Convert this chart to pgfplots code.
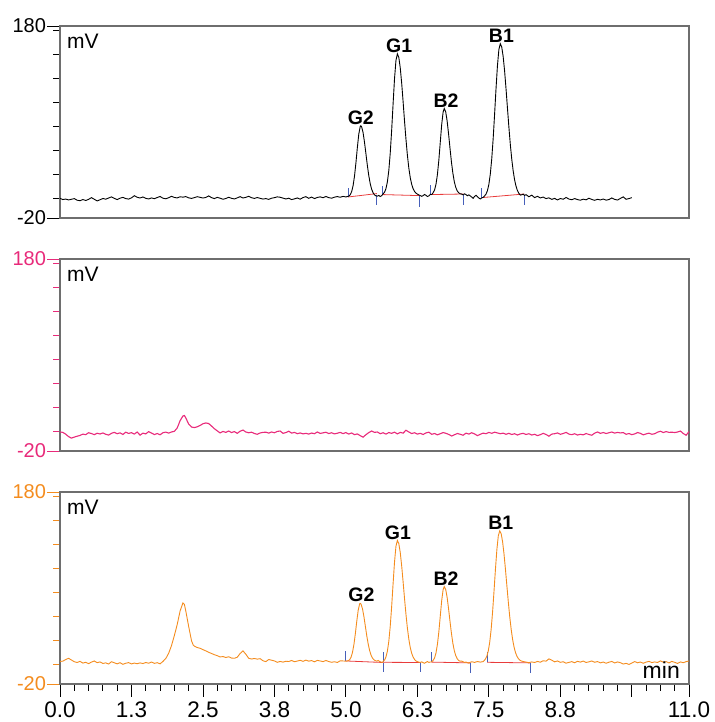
\documentclass[border=0pt]{standalone}
\usepackage{fontspec}
\setmainfont{Liberation Sans}
\usepackage{pgfplots}
\pgfplotsset{compat=1.18}

\definecolor{framec}{RGB}{110,110,110}
\definecolor{pinkc}{RGB}{232,42,122}
\definecolor{orangec}{RGB}{244,140,30}
\definecolor{basered}{RGB}{232,60,60}
\definecolor{markblue}{RGB}{70,95,185}

\pgfplotsset{
  chrom/.style={
    scale only axis, width=629pt, height=192pt,
    xmin=0, xmax=11, ymin=-20, ymax=180,
    axis line style={framec, line width=1.2pt},
    ytick={-20,180}, yticklabels={-20,180},
    minor ytick={0,25,...,175},
    ytick pos=left, tick align=outside,
    major tick length=13pt, minor tick length=7pt,
    every tick/.append style={line width=0.9pt},
    yticklabel style={font=\fontsize{20}{22}\selectfont, xshift=2.5pt},
    clip=false,
  },
}
\tikzset{peak/.style={font=\bfseries\fontsize{19.5}{20}\selectfont, anchor=south, inner sep=1pt}}

\begin{document}
\begin{tikzpicture}
\path[use as bounding box] (0,0) rectangle (714pt,722pt);

% ---------------- top trace (black) ----------------
\begin{axis}[chrom, at={(60pt,504pt)}, anchor=south west, xtick=\empty,
  y tick style={black}, yticklabel style={text=black}]
\addplot[basered, line width=0.8pt] coordinates {(5.04,1.9) (5.54,5.4)};
\addplot[basered, line width=0.8pt] coordinates {(5.64,4.4) (6.29,3.3)};
\addplot[basered, line width=0.8pt] coordinates {(6.48,4.4) (7.06,5.0)};
\addplot[basered, line width=0.8pt] coordinates {(7.37,1.2) (8.12,5.0)};
\addplot[markblue, line width=0.9pt] coordinates {(5.04,1.9) (5.04,11)};
\addplot[markblue, line width=0.9pt] coordinates {(5.64,4.4) (5.64,13.5)};
\addplot[markblue, line width=0.9pt] coordinates {(6.48,4.4) (6.48,14)};
\addplot[markblue, line width=0.9pt] coordinates {(7.37,1.2) (7.37,11)};
\addplot[markblue, line width=0.9pt] coordinates {(5.54,4.4) (5.54,-6.8)};
\addplot[markblue, line width=0.9pt] coordinates {(6.29,2.6) (6.29,-8.5)};
\addplot[markblue, line width=0.9pt] coordinates {(7.06,4.4) (7.06,-6.8)};
\addplot[markblue, line width=0.9pt] coordinates {(8.12,4.4) (8.12,-6.8)};
\addplot[black, line width=0.9pt] coordinates {
(0.00,0.5)(0.05,-0.8)(0.10,-0.3)(0.15,-1.2)(0.20,-0.5)(0.25,0.2)(0.30,-1.5)(0.35,-2.0)(0.40,-0.8)(0.45,-1.8)
(0.50,-0.6)(0.55,1.2)(0.60,-0.5)(0.65,-2.2)(0.70,-1.0)(0.75,0.3)(0.80,-0.4)(0.85,0.8)(0.90,2.0)(0.95,0.4)
(1.00,-0.8)(1.05,0.6)(1.10,1.5)(1.15,0.2)(1.20,-0.3)(1.25,1.0)(1.30,3.2)(1.35,1.6)(1.40,0.8)(1.45,1.9)
(1.50,0.5)(1.55,-0.2)(1.60,0.9)(1.65,0.1)(1.70,1.3)(1.75,2.4)(1.80,0.6)(1.85,0.0)(1.90,1.1)(1.95,2.6)
(2.00,1.4)(2.05,0.9)(2.10,2.1)(2.15,1.7)(2.20,2.3)(2.25,1.0)(2.30,0.4)(2.35,1.2)(2.40,2.2)(2.45,1.5)
(2.50,0.8)(2.55,1.4)(2.60,3.0)(2.65,1.2)(2.70,0.2)(2.75,1.5)(2.80,0.6)(2.85,-0.5)(2.90,0.3)(2.95,1.6)
(3.00,0.5)(3.05,-0.2)(3.10,1.0)(3.15,2.2)(3.20,0.8)(3.25,1.5)(3.30,2.6)(3.35,1.1)(3.40,0.4)(3.45,1.3)
(3.50,0.5)(3.55,-0.3)(3.60,0.2)(3.65,-0.6)(3.70,0.6)(3.75,1.2)(3.80,2.0)(3.85,1.6)(3.90,0.7)(3.95,-0.2)
(4.00,0.6)(4.05,-0.8)(4.10,-0.1)(4.15,0.9)(4.20,-0.4)(4.25,1.3)(4.30,2.2)(4.35,0.5)(4.40,1.8)(4.45,0.2)
(4.50,1.4)(4.55,2.0)(4.60,1.1)(4.65,2.4)(4.70,1.2)(4.75,0.6)(4.80,1.7)(4.85,2.3)(4.90,1.6)(4.95,2.5)
(5.00,1.9)(5.05,2.8)(5.075,4.2)(5.10,7.4)(5.125,13.5)(5.15,23.5)(5.175,37.4)(5.20,53.3)(5.225,67.3)(5.25,75.2)
(5.26,76.0)(5.275,75.0)(5.30,69.0)(5.325,59.0)(5.35,46.9)(5.375,34.7)(5.40,24.1)(5.425,15.8)(5.45,10.0)(5.475,6.3)
(5.50,4.1)(5.525,3.0)(5.55,2.8)(5.575,3.5)(5.60,2.4)(5.625,3.2)
(5.65,5.1)(5.675,6.8)(5.70,10.5)(5.725,17.5)(5.75,29.3)(5.775,47.4)(5.80,71.3)(5.825,98.8)(5.85,125.0)(5.875,144.0)
(5.90,151.0)(5.925,147.3)(5.95,136.6)(5.975,120.6)(6.00,101.3)(6.025,81.0)(6.05,62.1)(6.075,45.5)(6.10,32.1)(6.125,22.1)
(6.15,15.1)(6.175,10.5)(6.20,7.6)(6.225,5.9)(6.25,4.9)(6.275,4.0)(6.30,3.4)(6.325,2.6)(6.35,3.3)(6.375,4.5)
(6.40,3.6)(6.425,2.4)(6.45,3.0)(6.475,4.6)(6.50,4.4)
(6.525,6.3)(6.55,9.2)(6.575,15.0)(6.60,25.1)(6.625,40.1)(6.65,58.8)(6.675,77.3)(6.70,90.4)(6.72,94.0)(6.745,90.6)
(6.77,81.2)(6.795,67.8)(6.82,52.8)(6.845,38.6)(6.87,26.8)(6.895,18.0)(6.92,12.1)(6.945,8.4)(6.97,6.4)(6.995,5.3)
(7.02,5.0)(7.05,4.0)(7.075,5.2)(7.10,4.3)(7.125,3.2)(7.15,4.1)(7.175,3.0)(7.20,1.8)(7.225,0.5)(7.25,2.5)
(7.275,3.6)(7.30,2.2)(7.325,0.8)(7.35,-0.2)(7.375,0.9)(7.40,1.5)
(7.425,3.0)(7.45,4.9)(7.475,8.5)(7.50,15.0)(7.525,25.7)(7.55,41.4)(7.575,62.5)(7.60,87.9)(7.625,114.6)(7.65,138.6)
(7.675,155.4)(7.70,161.5)(7.725,158.1)(7.75,148.2)(7.775,133.2)(7.80,114.6)(7.825,94.5)(7.85,74.8)(7.875,56.7)(7.90,41.4)
(7.925,29.1)(7.95,19.7)(7.975,13.1)(8.00,8.5)(8.025,5.6)(8.05,3.8)(8.075,4.2)(8.10,4.8)(8.125,3.5)
(8.15,4.3)(8.20,2.1)(8.25,3.8)(8.30,1.2)(8.35,2.6)(8.40,0.9)(8.45,1.8)(8.50,0.2)(8.55,1.0)(8.60,-0.6)
(8.65,0.4)(8.70,-1.2)(8.75,0.3)(8.80,-0.5)(8.85,1.4)(8.90,-0.3)(8.95,-1.0)(9.00,0.2)(9.05,-0.8)(9.10,-1.5)
(9.15,-0.4)(9.20,-1.1)(9.25,0.6)(9.30,-0.7)(9.35,-1.6)(9.40,-0.5)(9.45,-1.2)(9.50,-0.2)(9.55,-1.4)(9.60,-0.8)
(9.65,0.9)(9.70,-0.6)(9.75,-1.3)(9.80,0.4)(9.85,2.0)(9.90,-0.5)(9.95,0.2)(10.00,1.2)
};
\node[peak] at (axis cs:5.26,76) {G2};
\node[peak] at (axis cs:5.93,151) {G1};
\node[peak] at (axis cs:6.75,94) {B2};
\node[peak] at (axis cs:7.72,161.5) {B1};
\node[anchor=north west, inner sep=0, font=\fontsize{21}{22}\selectfont] at (rel axis cs:0,1) [xshift=7pt, yshift=-8pt] {mV};
\end{axis}

% ---------------- middle trace (pink) ----------------
\begin{axis}[chrom, at={(60pt,271pt)}, anchor=south west, xtick=\empty,
  y tick style={pinkc}, yticklabel style={text=pinkc}]
\addplot[pinkc, line width=1.1pt] coordinates {
(0.00,-0.2)(0.05,-0.6)(0.10,-2.5)(0.15,-5.0)(0.20,-6.6)(0.25,-5.5)(0.30,-4.6)(0.35,-3.8)(0.40,-2.4)(0.45,-3.0)
(0.50,-1.0)(0.55,-1.8)(0.60,-3.0)(0.65,-1.5)(0.70,-2.3)(0.75,-1.2)(0.80,-2.6)(0.85,-3.4)(0.90,-1.6)(0.95,-0.6)
(1.00,-2.0)(1.05,-1.1)(1.10,-2.8)(1.15,-0.4)(1.20,-1.7)(1.25,-0.9)(1.30,-2.4)(1.35,-0.2)(1.40,-3.5)(1.45,-1.4)
(1.50,-2.2)(1.55,0.2)(1.60,-1.3)(1.65,-2.9)(1.70,-1.8)(1.75,-3.1)(1.80,-1.0)(1.85,-0.3)(1.90,-1.4)(1.95,-0.2)
(2.00,0.5)(2.05,4.0)(2.10,11.5)(2.15,16.5)(2.175,17.0)(2.20,14.5)(2.25,8.0)(2.30,5.0)(2.35,4.4)(2.40,5.2)
(2.45,6.6)(2.50,8.4)(2.55,9.2)(2.60,8.6)(2.65,6.0)(2.70,3.2)(2.75,1.0)(2.80,-1.2)(2.85,0.4)(2.90,-0.6)
(2.95,0.8)(3.00,-0.8)(3.05,0.2)(3.10,-1.6)(3.15,0.6)(3.20,1.8)(3.25,-0.2)(3.30,-1.0)(3.35,-0.4)(3.40,-1.8)
(3.45,-2.6)(3.50,-1.2)(3.55,-0.6)(3.60,-0.4)(3.65,-1.4)(3.70,-0.2)(3.75,-1.0)(3.80,0.4)(3.85,0.8)(3.90,-1.6)
(3.95,-0.8)(4.00,0.6)(4.05,-1.4)(4.10,-0.6)(4.15,-2.0)(4.20,-1.2)(4.25,-2.2)(4.30,-1.6)(4.35,-2.4)(4.40,-1.3)
(4.45,-2.0)(4.50,-0.2)(4.55,-1.7)(4.60,-1.1)(4.65,-0.5)(4.70,-1.8)(4.75,-1.0)(4.80,-2.2)(4.85,-1.5)(4.90,-0.6)
(4.95,-1.9)(5.00,-0.8)(5.05,-2.4)(5.10,-1.2)(5.15,-3.0)(5.20,-2.2)(5.25,-4.0)(5.30,-5.6)(5.35,-3.0)(5.40,-0.8)
(5.45,0.8)(5.50,-0.6)(5.55,-0.2)(5.60,-2.0)(5.65,-1.0)(5.70,-2.4)(5.75,-0.8)(5.80,-1.6)(5.85,-0.4)(5.90,-2.2)
(5.95,-0.6)(6.00,-1.4)(6.05,1.6)(6.10,-0.2)(6.15,-1.8)(6.20,-1.0)(6.25,-2.4)(6.30,-1.6)(6.35,-2.8)(6.40,-1.2)
(6.45,-0.4)(6.50,-2.6)(6.55,-1.8)(6.60,-3.2)(6.65,-2.0)(6.70,-0.8)(6.75,-1.6)(6.80,-2.8)(6.85,-4.4)(6.90,-3.0)
(6.95,-1.8)(7.00,-2.6)(7.05,-3.6)(7.10,-1.4)(7.15,-2.4)(7.20,-1.0)(7.25,-2.2)(7.30,-4.0)(7.35,-2.6)(7.40,-1.4)
(7.45,-2.0)(7.50,-0.6)(7.55,-1.6)(7.60,-0.4)(7.65,-1.2)(7.70,-2.0)(7.75,-1.4)(7.80,-2.6)(7.85,-1.6)(7.90,-2.8)
(7.95,-2.0)(8.00,-3.4)(8.05,-2.2)(8.10,-1.6)(8.15,-2.8)(8.20,-2.0)(8.25,-3.4)(8.30,-2.6)(8.35,-4.0)(8.40,-3.0)
(8.45,-1.6)(8.50,-2.8)(8.55,-4.6)(8.60,-2.4)(8.65,-2.0)(8.70,-1.2)(8.75,-2.6)(8.80,-1.8)(8.85,-0.6)(8.90,-2.4)
(8.95,-3.0)(9.00,-2.0)(9.05,-3.4)(9.10,-2.6)(9.15,-3.2)(9.20,-1.8)(9.25,-2.8)(9.30,-3.6)(9.35,-1.4)(9.40,-0.2)
(9.45,-1.6)(9.50,-0.8)(9.55,-1.8)(9.60,-1.0)(9.65,-0.2)(9.70,-1.4)(9.75,-0.6)(9.80,-1.2)(9.85,-0.8)(9.90,-2.6)
(9.95,-1.8)(10.00,-3.0)(10.05,-2.2)(10.10,-0.8)(10.15,-1.6)(10.20,-3.2)(10.25,-2.2)(10.30,-1.4)(10.35,-2.6)(10.40,-2.0)
(10.45,-0.4)(10.50,0.6)(10.55,-0.8)(10.60,0.2)(10.65,-0.6)(10.70,-0.4)(10.75,-0.8)(10.80,-0.2)(10.85,0.8)(10.90,-1.8)
(10.95,-3.6)(11.00,0.2)
};
\node[anchor=north west, inner sep=0, font=\fontsize{21}{22}\selectfont] at (rel axis cs:0,1) [xshift=7pt, yshift=-8pt] {mV};
\end{axis}

% ---------------- bottom trace (orange) ----------------
\begin{axis}[chrom, at={(60pt,38pt)}, anchor=south west,
  y tick style={orangec}, yticklabel style={text=orangec},
  xtick={0,1.25,2.5,3.75,5,6.25,7.5,8.75,10,11},
  xticklabels={0.0,1.3,2.5,3.8,5.0,6.3,7.5,8.8,,11.0},
  minor xtick={0,0.25,...,11},
  xtick pos=bottom,
  x tick style={black}, xticklabel style={text=black, font=\fontsize{22.5}{24}\selectfont, yshift=-1pt}]
\addplot[basered, line width=0.8pt] coordinates {(5.00,4.0) (5.65,2.4)};
\addplot[basered, line width=0.8pt] coordinates {(5.65,2.6) (6.31,2.4)};
\addplot[basered, line width=0.8pt] coordinates {(6.50,2.8) (7.17,2.0)};
\addplot[basered, line width=0.8pt] coordinates {(7.47,2.6) (8.22,2.0)};
\addplot[markblue, line width=0.9pt] coordinates {(5.00,4.0) (5.00,14)};
\addplot[markblue, line width=0.9pt] coordinates {(5.65,3.0) (5.65,13)};
\addplot[markblue, line width=0.9pt] coordinates {(6.50,2.8) (6.50,13)};
\addplot[markblue, line width=0.9pt] coordinates {(7.47,2.6) (7.47,13)};
\addplot[markblue, line width=0.9pt] coordinates {(5.65,2.0) (5.65,-8)};
\addplot[markblue, line width=0.9pt] coordinates {(6.31,2.4) (6.31,-8)};
\addplot[markblue, line width=0.9pt] coordinates {(7.17,2.0) (7.17,-9)};
\addplot[markblue, line width=0.9pt] coordinates {(8.22,2.0) (8.22,-9)};
\addplot[orangec, line width=0.9pt] coordinates {
(0.00,3.5)(0.05,3.8)(0.10,5.5)(0.15,6.8)(0.20,5.0)(0.25,3.2)(0.30,2.4)(0.35,3.6)(0.40,1.8)(0.45,2.6)
(0.50,1.2)(0.55,2.8)(0.60,4.0)(0.65,2.2)(0.70,3.0)(0.75,1.4)(0.80,2.0)(0.85,0.8)(0.90,3.2)(0.95,2.1)
(1.00,1.0)(1.05,2.2)(1.10,0.5)(1.15,1.6)(1.20,2.3)(1.25,0.9)(1.30,1.8)(1.35,1.1)(1.40,2.0)(1.45,1.3)
(1.50,2.4)(1.55,1.6)(1.60,2.9)(1.65,1.5)(1.70,2.2)(1.75,1.0)(1.80,3.5)(1.85,6.5)(1.90,12.0)(1.95,20.0)
(2.00,30.5)(2.05,42.0)(2.10,56.0)(2.15,64.5)(2.175,63.0)(2.20,56.0)(2.25,40.0)(2.30,25.0)(2.33,20.5)(2.35,19.5)
(2.40,18.0)(2.45,17.2)(2.50,15.8)(2.55,14.5)(2.60,13.0)(2.65,11.8)(2.70,10.5)(2.75,9.5)(2.80,8.2)(2.85,8.6)
(2.90,7.6)(2.95,8.4)(3.00,7.0)(3.05,6.8)(3.10,7.9)(3.15,11.8)(3.20,14.5)(3.25,11.0)(3.30,6.8)(3.35,6.0)
(3.40,6.6)(3.45,5.9)(3.50,6.4)(3.55,4.2)(3.60,3.3)(3.65,5.5)(3.70,4.8)(3.75,4.0)(3.80,2.6)(3.85,3.5)
(3.90,2.8)(3.95,3.7)(4.00,3.4)(4.05,4.5)(4.10,3.2)(4.15,3.9)(4.20,4.7)(4.25,3.6)(4.30,4.9)(4.35,3.8)
(4.40,4.4)(4.45,3.1)(4.50,4.6)(4.55,4.0)(4.60,3.3)(4.65,4.5)(4.70,3.4)(4.75,2.6)(4.80,3.2)(4.85,2.4)
(4.90,4.2)(4.95,4.0)(5.00,3.8)
(5.04,4.2)(5.065,5.3)(5.09,7.9)(5.115,12.9)(5.14,21.1)(5.165,32.4)(5.19,45.4)(5.215,56.9)(5.24,63.4)(5.25,64.0)
(5.265,63.2)(5.29,58.3)(5.315,50.1)(5.34,40.2)(5.365,30.2)(5.39,21.5)(5.415,14.8)(5.44,10.0)(5.465,7.0)(5.49,5.2)
(5.515,4.3)(5.54,3.8)(5.565,4.5)(5.59,3.4)(5.615,2.8)(5.64,2.5)
(5.65,3.5)(5.675,4.9)(5.70,8.1)(5.725,14.1)(5.75,24.3)(5.775,40.0)(5.80,60.7)(5.825,84.4)(5.85,107.0)(5.875,123.4)
(5.90,129.5)(5.925,126.3)(5.95,117.1)(5.975,103.2)(6.00,86.6)(6.025,69.0)(6.05,52.7)(6.075,38.3)(6.10,26.8)(6.125,18.1)
(6.15,12.1)(6.175,8.1)(6.20,5.6)(6.225,4.1)(6.25,3.3)(6.275,2.8)(6.30,2.4)(6.325,3.1)(6.35,2.2)(6.375,1.6)
(6.40,2.6)(6.425,3.4)(6.45,2.5)(6.475,2.9)(6.50,3.0)
(6.525,4.6)(6.55,7.1)(6.575,12.2)(6.60,21.1)(6.625,34.2)(6.65,50.6)(6.675,66.8)(6.70,78.4)(6.72,81.5)(6.745,78.5)
(6.77,70.3)(6.795,58.5)(6.82,45.4)(6.845,32.9)(6.87,22.5)(6.895,14.9)(6.92,9.7)(6.945,6.5)(6.97,4.6)(6.995,3.7)
(7.02,3.9)(7.05,3.2)(7.075,2.4)(7.10,2.9)(7.125,2.1)(7.15,1.8)(7.175,2.6)(7.20,3.2)(7.25,2.5)(7.30,3.4)
(7.35,2.8)(7.40,3.3)
(7.415,4.3)(7.44,5.9)(7.465,9.0)(7.49,14.5)(7.515,23.6)(7.54,37.0)(7.565,55.0)(7.59,76.7)(7.615,99.5)(7.64,120.0)
(7.665,134.3)(7.69,139.5)(7.715,136.6)(7.74,128.2)(7.765,115.3)(7.79,99.5)(7.815,82.3)(7.84,65.5)(7.865,50.1)(7.89,37.0)
(7.915,26.5)(7.94,18.6)(7.965,12.9)(7.99,9.0)(8.015,6.5)(8.04,4.9)(8.065,4.0)(8.10,3.4)(8.15,2.8)(8.20,2.2)
(8.25,3.0)(8.30,2.4)(8.35,3.5)(8.40,2.7)(8.45,4.2)(8.50,3.8)(8.55,6.2)(8.60,4.8)(8.65,3.1)(8.70,4.0)
(8.75,2.6)(8.80,3.2)(8.85,1.7)(8.90,2.5)(8.95,3.3)(9.00,2.1)(9.05,3.6)(9.10,2.8)(9.15,3.9)(9.20,2.4)
(9.25,3.1)(9.30,4.0)(9.35,2.6)(9.40,3.4)(9.45,2.0)(9.50,2.9)(9.55,1.6)(9.60,2.7)(9.65,3.5)(9.70,1.9)
(9.75,3.0)(9.80,2.2)(9.85,0.8)(9.90,1.5)(9.95,0.4)(10.00,1.8)(10.05,3.4)(10.10,2.1)(10.15,2.9)(10.20,1.6)
(10.25,2.8)(10.30,3.6)(10.35,2.3)(10.40,3.0)(10.45,2.4)(10.50,4.1)(10.55,2.7)(10.60,3.3)(10.65,2.0)(10.70,3.5)
(10.75,2.6)(10.80,1.4)(10.85,3.0)(10.90,2.2)(10.95,3.3)(11.00,4.0)
};
\node[peak] at (axis cs:5.27,64) {G2};
\node[peak] at (axis cs:5.91,129.5) {G1};
\node[peak] at (axis cs:6.75,81.5) {B2};
\node[peak] at (axis cs:7.71,139.5) {B1};
\node[anchor=north west, inner sep=0, font=\fontsize{21}{22}\selectfont] at (rel axis cs:0,1) [xshift=7pt, yshift=-8pt] {mV};
\node[anchor=south east, inner sep=0, font=\fontsize{23}{24}\selectfont] at (rel axis cs:1,0) [xshift=-9pt, yshift=5pt] {min};
\end{axis}
\end{tikzpicture}
\end{document}
